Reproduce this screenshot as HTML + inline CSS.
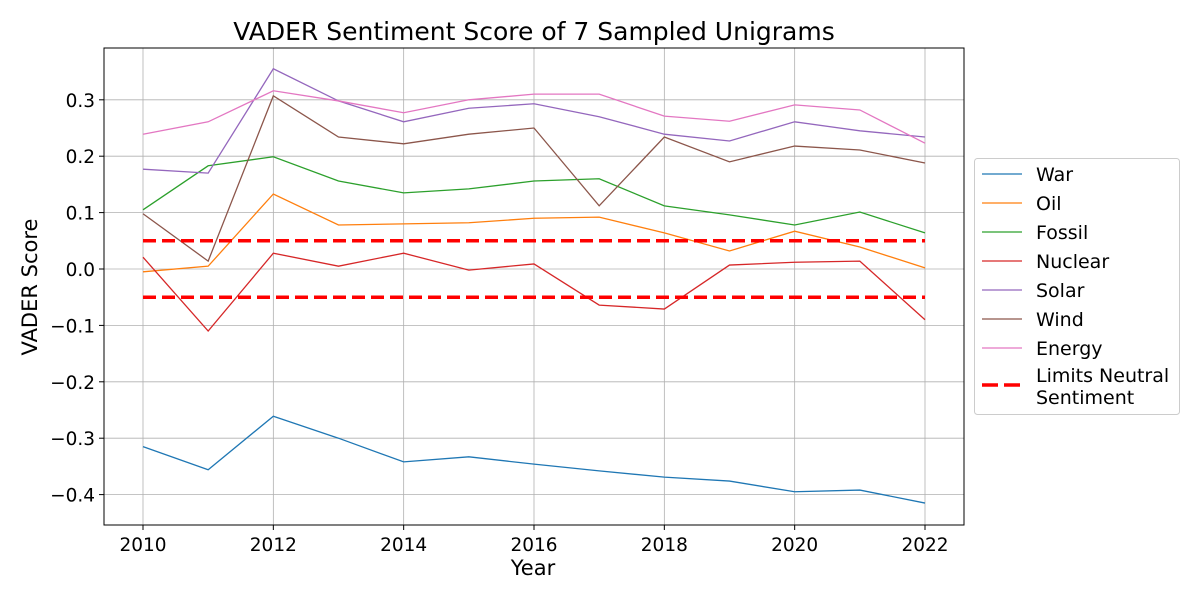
<!DOCTYPE html>
<html><head><meta charset="utf-8"><style>body{margin:0;background:#fff}svg{font-family:"DejaVu Sans","Liberation Sans",sans-serif}</style></head>
<body>
<svg id="chart" width="1200" height="600" xmlns="http://www.w3.org/2000/svg">
<text x="534" y="40" font-size="25" text-anchor="middle">VADER Sentiment Score of 7 Sampled Unigrams</text>
<g id="grid"></g><g id="lines"></g><g id="axes"></g><g id="legend"></g>
<text x="533" y="575" font-size="21" text-anchor="middle">Year</text>
<text x="37" y="287" font-size="21" text-anchor="middle" transform="rotate(-90 37 287)">VADER Score</text>
</svg>
<script>
const years=[2010,2011,2012,2013,2014,2015,2016,2017,2018,2019,2020,2021,2022];
const war=[-0.315,-0.356,-0.261,-0.30,-0.342,-0.333,-0.346,-0.358,-0.369,-0.376,-0.395,-0.392,-0.415];
const oil=[-0.005,0.005,0.133,0.078,0.08,0.082,0.09,0.092,0.064,0.032,0.067,0.039,0.002];
const fossil=[0.105,0.183,0.199,0.156,0.135,0.142,0.156,0.16,0.112,0.096,0.078,0.101,0.064];
const nuclear=[0.021,-0.11,0.028,0.005,0.028,-0.002,0.009,-0.064,-0.071,0.007,0.012,0.014,-0.09];
const solar=[0.177,0.17,0.355,0.298,0.261,0.285,0.293,0.27,0.239,0.227,0.261,0.245,0.234];
const wind=[0.098,0.014,0.307,0.234,0.222,0.239,0.25,0.112,0.234,0.19,0.218,0.211,0.188];
const energy=[0.239,0.261,0.316,0.298,0.277,0.3,0.31,0.31,0.271,0.262,0.291,0.282,0.223];
const xTicks=[2010,2012,2014,2016,2018,2020,2022];
const yTicks=[0.3,0.2,0.1,0.0,-0.1,-0.2,-0.3,-0.4];
const limits=[0.05,-0.05];
const seriesNames=["War","Oil","Fossil","Nuclear","Solar","Wind","Energy"];
const seriesData=[war,oil,fossil,nuclear,solar,wind,energy];
const colors=["#1f77b4","#ff7f0e","#2ca02c","#d62728","#9467bd","#8c564b","#e377c2"];
const L=104,R=964,T=48,B=525;
const x=v=>143+(v-2010)*(925-143)/12;
const y=v=>269-v*564;
const NS="http://www.w3.org/2000/svg";
function mk(p,t,a){const e=document.createElementNS(NS,t);for(const k in a)e.setAttribute(k,a[k]);p.appendChild(e);return e;}
const G=document.getElementById('grid'),Ln=document.getElementById('lines'),A=document.getElementById('axes'),Lg=document.getElementById('legend');
xTicks.forEach(t=>{
const g=mk(G,'line',{x1:x(t),x2:x(t),y1:T,y2:B,stroke:'#b0b0b0','stroke-width':0.8});


const tk=mk(A,'line',{x1:x(t),x2:x(t),y1:B,y2:B+5,stroke:'#000'});


const tx=mk(A,'text',{x:x(t),y:B+26,'font-size':18.5,'text-anchor':'middle'});tx.textContent=t;


});
yTicks.forEach(t=>{
const g=mk(G,'line',{x1:L,x2:R,y1:y(t),y2:y(t),stroke:'#b0b0b0','stroke-width':0.8});


const tk=mk(A,'line',{x1:L-5,x2:L,y1:y(t),y2:y(t),stroke:'#000'});


const tx=mk(A,'text',{x:L-9,y:y(t)+7,'font-size':18.5,'text-anchor':'end'});tx.textContent=(t<0?'\u2212':'')+Math.abs(t).toFixed(1);


});
seriesData.forEach((d,i)=>{
const p=mk(Ln,'polyline',{points:d.map((v,j)=>x(years[j])+','+y(v)).join(' '),fill:'none',stroke:colors[i],'stroke-width':1.3});


});
limits.forEach(v=>{
const l=mk(Ln,'line',{x1:x(2010),x2:x(2022),y1:y(v),y2:y(v),stroke:'#ff0000','stroke-width':3.5,'stroke-dasharray':'13,6'});


});
const fr=mk(A,'rect',{x:L,y:T,width:R-L,height:B-T,fill:'none',stroke:'#000','stroke-width':1});


const lb=mk(Lg,'rect',{x:974.5,y:158.5,width:205,height:256,rx:3,fill:'#fff',stroke:'#ccc'});


seriesNames.forEach((n,i)=>{
const yy=174+i*29;
const l=mk(Lg,'line',{x1:982,x2:1022,y1:yy,y2:yy,stroke:colors[i],'stroke-width':1.3});


const t=mk(Lg,'text',{x:1036,y:yy+7,'font-size':19});t.textContent=n;


});
const ll=mk(Lg,'line',{x1:982,x2:1020,y1:385,y2:385,stroke:'#ff0000','stroke-width':3.5,'stroke-dasharray':'16,6'});


const t1=mk(Lg,'text',{x:1036,y:382,'font-size':19});t1.textContent='Limits Neutral';


const t2=mk(Lg,'text',{x:1036,y:404,'font-size':19});t2.textContent='Sentiment';


</script>
</body></html>
